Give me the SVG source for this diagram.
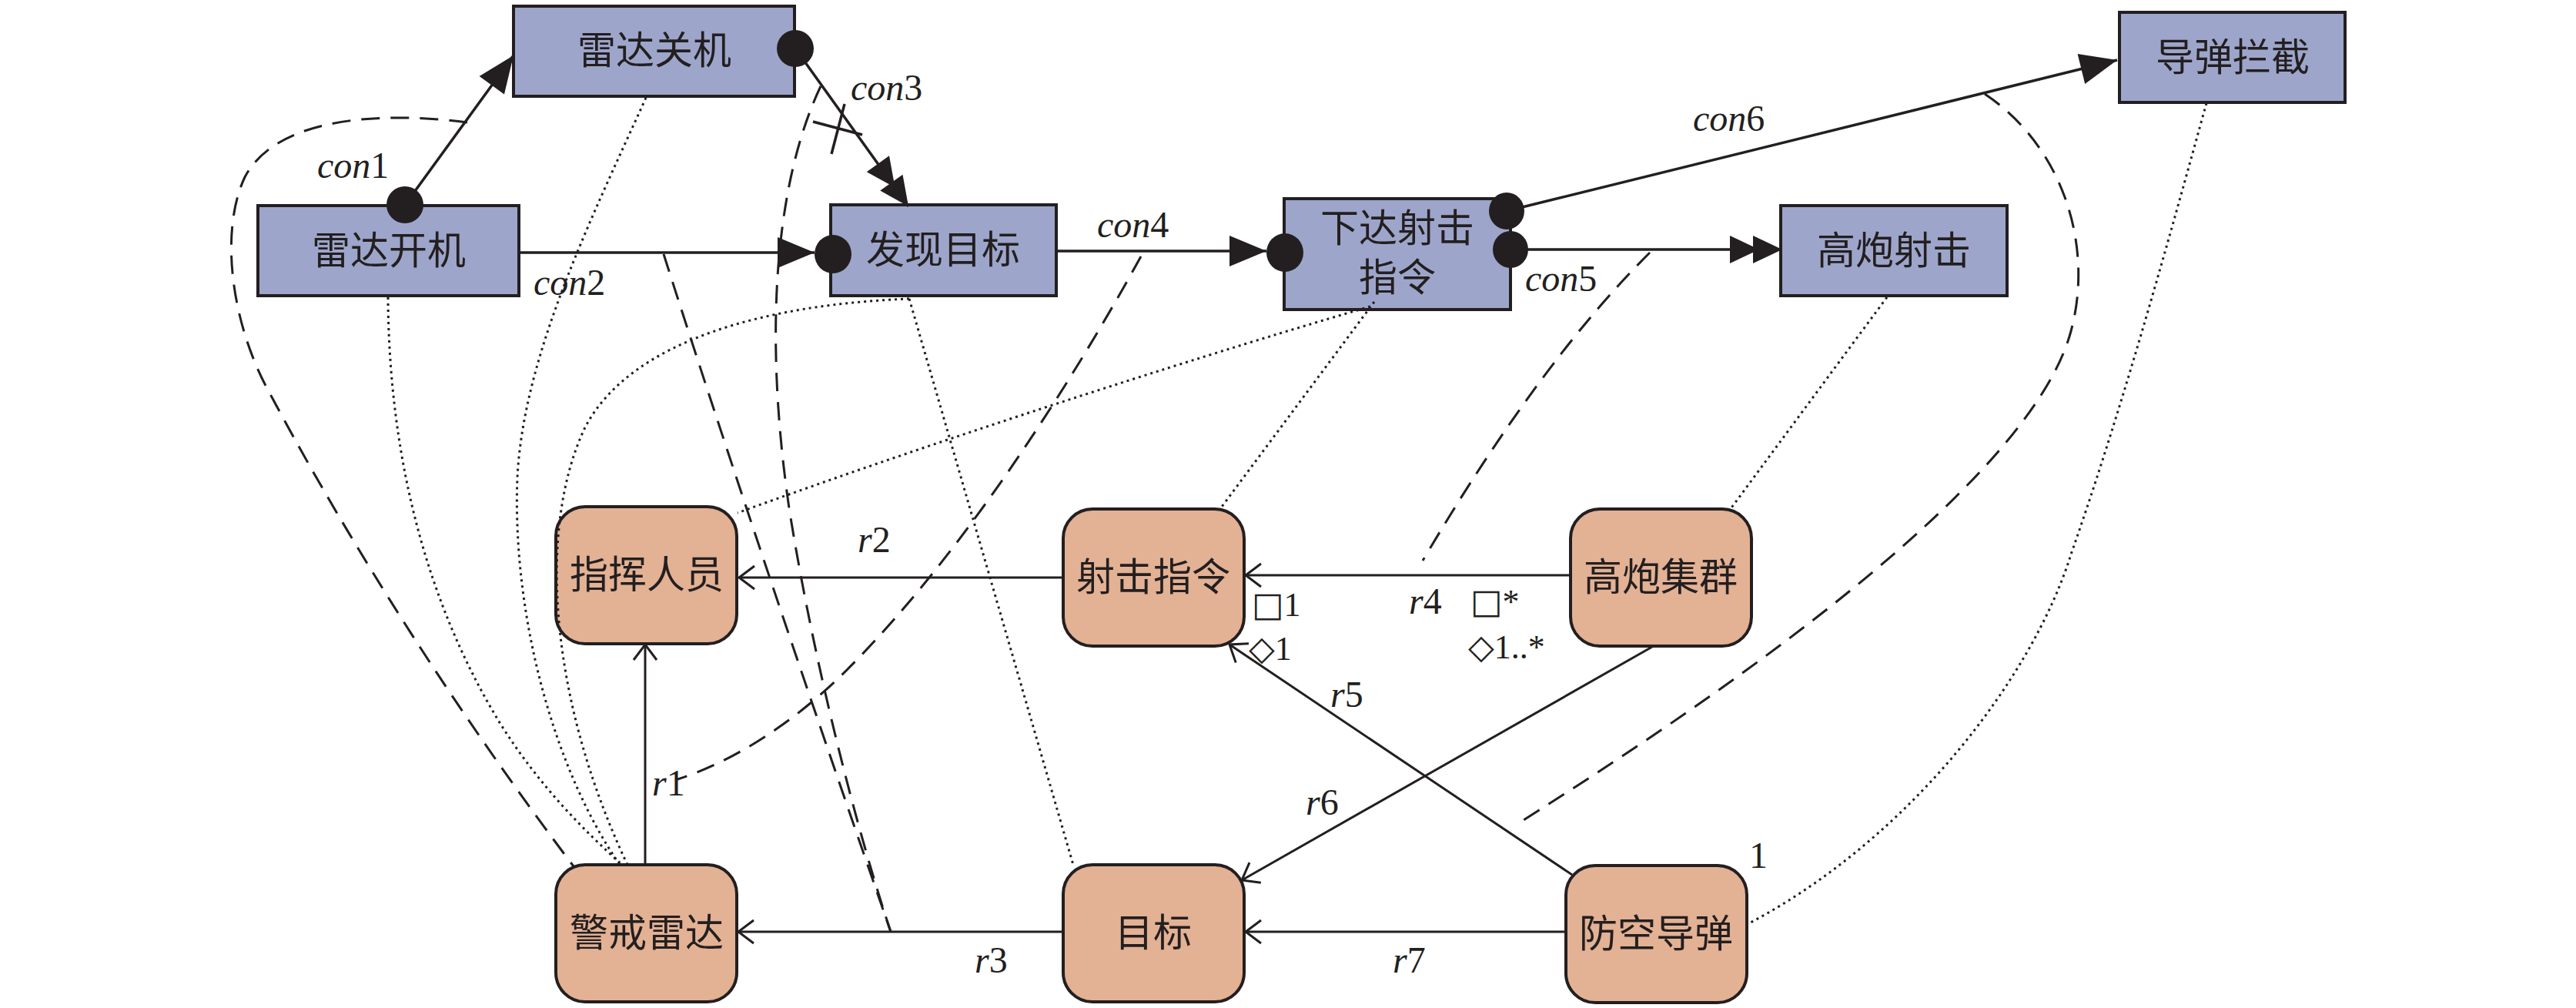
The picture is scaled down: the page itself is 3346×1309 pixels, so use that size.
<svg xmlns="http://www.w3.org/2000/svg" width="3346" height="1309" viewBox="0 0 3346 1309">
<style>
.blue{fill:#9da5ca;stroke:#231f20;stroke-width:4}
.org{fill:#e3b194;stroke:#231f20;stroke-width:4}
.cjk{font-family:"Liberation Serif","Noto Sans CJK SC",serif;font-size:50px;fill:#231f20;text-anchor:middle;dominant-baseline:central}
.lbl{font-family:"Liberation Serif","DejaVu Serif",serif;font-size:48px;fill:#231f20}
.mul{font-family:"Liberation Serif","DejaVu Serif",serif;font-size:44px;fill:#231f20}
.it{font-style:italic}
.sym{font-family:"DejaVu Sans",sans-serif;font-size:44px}
.con{fill:none;stroke:#231f20;stroke-width:3.5}
.rel{fill:none;stroke:#231f20;stroke-width:3}
.dash{fill:none;stroke:#231f20;stroke-width:3;stroke-dasharray:24 14}
.dot{fill:none;stroke:#231f20;stroke-width:3;stroke-dasharray:3 5}
.pin{fill:#231f20}
</style>
<defs>
<marker id="tri" markerUnits="userSpaceOnUse" markerWidth="60" markerHeight="50" refX="48" refY="20" orient="auto" overflow="visible">
<path d="M0,0 L48,20 L0,40 z" fill="#231f20"/>
</marker>
<marker id="tri2" markerUnits="userSpaceOnUse" markerWidth="80" markerHeight="50" refX="68" refY="18" orient="auto" overflow="visible">
<path d="M0,0 L38,18 L0,36 z M30,0 L68,18 L30,36 z" fill="#231f20"/>
</marker>
<marker id="open" markerUnits="userSpaceOnUse" markerWidth="30" markerHeight="40" refX="0" refY="0" orient="auto" overflow="visible">
<path d="M-20,-15 L0,0 L-20,15" fill="none" stroke="#231f20" stroke-width="3"/>
</marker>
</defs>

<g id="n_radar_off"><rect class="blue" x="667" y="8" width="365" height="117"/><text class="cjk" x="850" y="66">雷达关机</text></g>
<g id="n_radar_on"><rect class="blue" x="335" y="267" width="339" height="117"/><text class="cjk" x="505" y="326">雷达开机</text></g>
<g id="n_find"><rect class="blue" x="1079" y="266" width="293" height="118"/><text class="cjk" x="1225" y="325">发现目标</text></g>
<g id="n_order"><rect class="blue" x="1668" y="258" width="294" height="144"/><text class="cjk" x="1815" y="297">下达射击</text><text class="cjk" x="1815" y="361">指令</text></g>
<g id="n_aa_fire"><rect class="blue" x="2313" y="267" width="294" height="117"/><text class="cjk" x="2460" y="326">高炮射击</text></g>
<g id="n_intercept"><rect class="blue" x="2753" y="16" width="293" height="117"/><text class="cjk" x="2900" y="75">导弹拦截</text></g>

<g id="n_commander"><rect class="org" x="722" y="658" width="235" height="178" rx="38"/><text class="cjk" x="840" y="747">指挥人员</text></g>
<g id="n_fire_order"><rect class="org" x="1381" y="661" width="235" height="178" rx="38"/><text class="cjk" x="1498" y="750">射击指令</text></g>
<g id="n_aa_group"><rect class="org" x="2040" y="661" width="235" height="178" rx="38"/><text class="cjk" x="2157" y="750">高炮集群</text></g>
<g id="n_radar"><rect class="org" x="722" y="1123" width="235" height="178" rx="38"/><text class="cjk" x="840" y="1212">警戒雷达</text></g>
<g id="n_target"><rect class="org" x="1381" y="1123" width="235" height="178" rx="38"/><text class="cjk" x="1498" y="1212">目标</text></g>
<g id="n_missile"><rect class="org" x="2034" y="1124" width="235" height="178" rx="38"/><text class="cjk" x="2151" y="1213">防空导弹</text></g>

<g id="connectors">
<!-- mapping dotted lines -->
<path class="dot" d="M504,386 C505,560 540,760 650,940 C700,1020 760,1080 808,1123"/>
<path class="dot" d="M839,127 C770,280 680,460 672,620 C665,800 720,1000 805,1123"/>
<path class="dot" d="M1181,388 C1000,395 820,440 760,555 C700,680 710,900 815,1123"/>
<path class="dot" d="M1181,388 L1394,1123"/>
<path class="dot" d="M1780,398 C1600,450 1250,560 958,666"/>
<path class="dot" d="M1785,392 L1584,662"/>
<path class="dot" d="M2451,386 L2247,662"/>
<path class="dot" d="M2866,134 C2820,300 2760,520 2690,720 C2640,880 2480,1090 2270,1200"/>
<!-- dashed con-to-relation lines -->
<path class="dash" d="M607,159 C500,145 360,150 318,230 C285,300 300,420 350,510 C430,660 560,880 745,1125"/>
<path class="dash" d="M862,330 Q980,700 1157,1210"/>
<path class="dash" d="M1066,112 C1010,230 990,420 1025,660 C1060,880 1120,1100 1157,1210"/>
<path class="dash" d="M1482,333 C1390,500 1250,720 1100,870 C1030,940 950,990 880,1012"/>
<path class="dash" d="M2143,328 Q2000,470 1848,728"/>
<path class="dash" d="M2578,122 C2680,190 2720,320 2690,430 C2650,580 2400,800 1974,1068"/>
<!-- con connectors -->
<path class="con" d="M526,266 L667,72" marker-end="url(#tri)"/>
<path class="con" d="M674,328 L1058,328" marker-end="url(#tri)"/>
<path class="con" d="M1033,63 L1180,268" marker-end="url(#tri2)"/>
<path class="con" d="M1372,326 L1645,326" marker-end="url(#tri)"/>
<path class="con" d="M1962,324 L2315,324" marker-end="url(#tri2)"/>
<path class="con" d="M1957,274 L2750,78" marker-end="url(#tri)"/>
<path class="con" d="M1056,158 L1120,175"/>
<path class="con" d="M1097,135 L1080,200"/>
<ellipse class="pin" cx="526" cy="266" rx="24" ry="24"/>
<ellipse class="pin" cx="1082" cy="330" rx="24" ry="25"/>
<ellipse class="pin" cx="1033" cy="63" rx="24" ry="24"/>
<ellipse class="pin" cx="1669" cy="328" rx="24" ry="25"/>
<ellipse class="pin" cx="1957" cy="274" rx="23" ry="24"/>
<ellipse class="pin" cx="1962" cy="324" rx="23" ry="24"/>
<!-- relations -->
<path class="rel" d="M838,1123 L838,837" marker-end="url(#open)"/>
<path class="rel" d="M1381,750 L960,750" marker-end="url(#open)"/>
<path class="rel" d="M1381,1210 L959,1210" marker-end="url(#open)"/>
<path class="rel" d="M2040,747 L1618,747" marker-end="url(#open)"/>
<path class="rel" d="M2042,1136 L1597,837" marker-end="url(#open)"/>
<path class="rel" d="M2146,840 L1613,1143" marker-end="url(#open)"/>
<path class="rel" d="M2034,1210 L1618,1210" marker-end="url(#open)"/>
<!-- labels -->
<text class="lbl" x="412" y="231"><tspan class="it">con</tspan>1</text>
<text class="lbl" x="693" y="383"><tspan class="it">con</tspan>2</text>
<text class="lbl" x="1105" y="130"><tspan class="it">con</tspan>3</text>
<text class="lbl" x="1425" y="308"><tspan class="it">con</tspan>4</text>
<text class="lbl" x="1981" y="378"><tspan class="it">con</tspan>5</text>
<text class="lbl" x="2199" y="170"><tspan class="it">con</tspan>6</text>
<text class="lbl" x="847" y="1033"><tspan class="it">r</tspan>1</text>
<text class="lbl" x="1114" y="717"><tspan class="it">r</tspan>2</text>
<text class="lbl" x="1266" y="1263"><tspan class="it">r</tspan>3</text>
<text class="lbl" x="1830" y="797"><tspan class="it">r</tspan>4</text>
<text class="lbl" x="1728" y="918"><tspan class="it">r</tspan>5</text>
<text class="lbl" x="1696" y="1058"><tspan class="it">r</tspan>6</text>
<text class="lbl" x="1809" y="1263"><tspan class="it">r</tspan>7</text>
<text class="mul" x="1626" y="800"><tspan class="sym">□</tspan>1</text>
<text class="mul" x="1622" y="857"><tspan class="sym">◇</tspan>1</text>
<text class="mul" x="1910" y="796"><tspan class="sym">□</tspan>*</text>
<text class="mul" x="1907" y="855"><tspan class="sym">◇</tspan>1..*</text>
<text class="lbl" x="2272" y="1127">1</text>
</g>
</svg>
